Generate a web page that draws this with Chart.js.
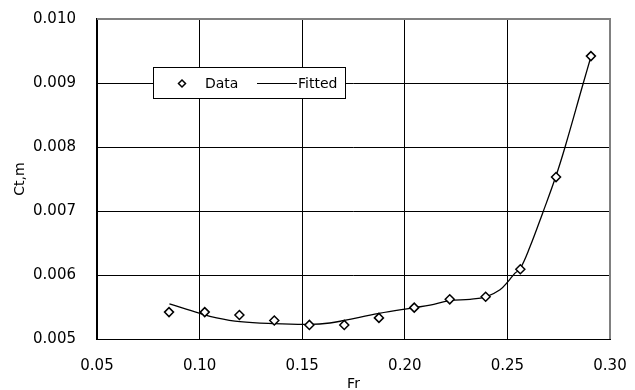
<!DOCTYPE html>
<html lang="en">
<head>
    <meta charset="UTF-8">
    <title>Ct,m vs Fr</title>
    <style>
        body { margin: 0; background: #fff; }
        canvas { display: block; }
    </style>
</head>
<body>

<canvas id="ctChart" width="635" height="390"></canvas>

<script src="https://cdn.jsdelivr.net/npm/chart.js"></script>
<script>
    // measured points
    const frData = [0.0851, 0.1025, 0.1194, 0.1364, 0.1535, 0.1705, 0.1874, 0.2046, 0.2219, 0.2394, 0.2563, 0.2737, 0.2907];
    const ctData = [0.00542, 0.00542, 0.005375, 0.00529, 0.00522, 0.00522, 0.00533, 0.00549, 0.00562, 0.00566, 0.00609, 0.00753, 0.00942];

    // fitted curve
    const frFit = [0.0853, 0.1002, 0.1083, 0.1197, 0.1359, 0.1538, 0.1635, 0.1705, 0.1874, 0.2046, 0.2123, 0.2217, 0.2318, 0.2396, 0.2464, 0.2504, 0.2537, 0.2561, 0.2610, 0.2672, 0.2735, 0.2781, 0.2870, 0.2907];
    const ctFit = [0.00555, 0.00540, 0.00533, 0.00527, 0.00524, 0.00523, 0.00525, 0.00529, 0.00540, 0.00549, 0.00553, 0.00560, 0.00562, 0.00566, 0.00577, 0.00590, 0.00603, 0.00609, 0.00644, 0.00697, 0.00753, 0.00800, 0.00900, 0.00941];

    const xTicks = [0.05, 0.10, 0.15, 0.20, 0.25, 0.30];
    const yTicks = [0.005, 0.006, 0.007, 0.008, 0.009, 0.010];

    Chart.defaults.font.family = '"DejaVu Sans", sans-serif';
    Chart.defaults.color = '#000';

    // keep the plot box where it is in the picture
    function noEdgePadding(s) {
        s.paddingTop = 0;
        s.paddingBottom = 0;
        s.paddingLeft = 0;
        s.paddingRight = 0;
    }

    // legend box inside the plot + grey top/right frame
    const frameAndLegend = {
        id: 'frameAndLegend',
        afterDraw(chart) {
            const ctx = chart.ctx;
            const a = chart.chartArea;
            ctx.save();
            ctx.strokeStyle = '#808080';
            ctx.lineWidth = 2;
            ctx.beginPath();
            ctx.moveTo(a.left, a.top);
            ctx.lineTo(a.right, a.top);
            ctx.lineTo(a.right, a.bottom);
            ctx.stroke();

            // legend
            ctx.fillStyle = '#fff';
            ctx.fillRect(153, 67, 192, 31);
            ctx.strokeStyle = '#000';
            ctx.lineWidth = 1;
            ctx.strokeRect(153.5, 67.5, 192, 31);

            const cy = 83.5;
            ctx.lineWidth = 1.5;
            ctx.beginPath();
            ctx.moveTo(182, cy - 3.5);
            ctx.lineTo(185.5, cy);
            ctx.lineTo(182, cy + 3.5);
            ctx.lineTo(178.5, cy);
            ctx.closePath();
            ctx.fillStyle = '#fff';
            ctx.fill();
            ctx.stroke();

            ctx.fillStyle = '#000';
            ctx.font = '14px "DejaVu Sans", sans-serif';
            ctx.textBaseline = 'middle';
            ctx.textAlign = 'left';
            ctx.fillText('Data', 205, cy + 1);

            ctx.lineWidth = 1;
            ctx.beginPath();
            ctx.moveTo(257, cy);
            ctx.lineTo(297, cy);
            ctx.stroke();
            ctx.fillText('Fitted', 298, cy + 1);
            ctx.restore();
        }
    };

    const ctx = document.getElementById('ctChart').getContext('2d');
    new Chart(ctx, {
        type: 'scatter',
        data: {
            datasets: [{
                label: 'Data',
                data: frData.map((x, i) => ({ x: x, y: ctData[i] })),
                pointStyle: 'rectRot',
                pointRadius: 4.5,
                pointBackgroundColor: '#fff',
                pointBorderColor: '#000',
                pointBorderWidth: 1.5,
                order: 1
            }, {
                label: 'Fitted',
                data: frFit.map((x, i) => ({ x: x, y: ctFit[i] })),
                showLine: true,
                pointRadius: 0,
                borderColor: '#000',
                borderWidth: 1.3,
                tension: 0.4,
                order: 2
            }]
        },
        options: {
            responsive: false,
            animation: false,
            layout: { autoPadding: false, padding: { top: 19, right: 25, left: 0, bottom: 0 } },
            plugins: {
                legend: { display: false },
                tooltip: { enabled: false }
            },
            scales: {
                x: {
                    type: 'linear',
                    min: 0.05,
                    max: 0.30,
                    afterBuildTicks: s => { s.ticks = xTicks.map(v => ({ value: v })); },
                    afterFit: s => { s.height = 51; noEdgePadding(s); },
                    ticks: {
                        font: { size: 15 },
                        padding: 18,
                        callback: v => v.toFixed(2)
                    },
                    grid: { color: '#000', lineWidth: 1, drawTicks: false },
                    border: { color: '#000', width: 1 },
                    title: {
                        display: true,
                        text: 'Fr',
                        font: { size: 14, lineHeight: 1 },
                        padding: { top: 0, bottom: -1 }
                    }
                },
                y: {
                    type: 'linear',
                    min: 0.005,
                    max: 0.010,
                    afterBuildTicks: s => { s.ticks = yTicks.map(v => ({ value: v })); },
                    afterFit: s => { s.width = 97; noEdgePadding(s); },
                    ticks: {
                        font: { size: 15 },
                        padding: 21,
                        callback: v => v.toFixed(3)
                    },
                    grid: { color: '#000', lineWidth: 1, drawTicks: false },
                    border: { color: '#000', width: 1.5 },
                    title: {
                        display: true,
                        text: 'Ct,m',
                        font: { size: 14, lineHeight: 1 },
                        padding: { top: 13, bottom: 0 }
                    }
                }
            }
        },
        plugins: [frameAndLegend]
    });
</script>

</body>
</html>
